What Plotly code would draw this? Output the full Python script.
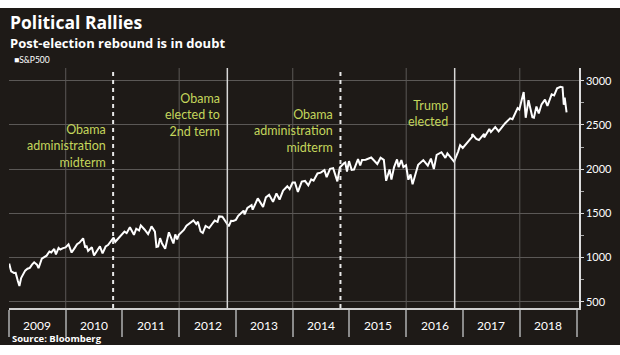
import plotly.graph_objects as go

# ---------------- data ----------------
dates = [
    "2009-01-02","2009-01-15","2009-02-02","2009-02-13","2009-02-27","2009-03-09","2009-03-20","2009-03-31",
    "2009-04-15","2009-04-30","2009-05-15","2009-05-29","2009-06-12","2009-06-30","2009-07-10","2009-07-31",
    "2009-08-14","2009-08-31","2009-09-18","2009-09-30","2009-10-19","2009-10-30","2009-11-16","2009-11-27",
    "2009-12-15","2009-12-31",
    "2010-01-19","2010-02-08","2010-02-26","2010-03-15","2010-03-31","2010-04-23","2010-05-07","2010-05-14",
    "2010-05-25","2010-06-18","2010-07-02","2010-07-16","2010-08-09","2010-08-26","2010-09-15","2010-09-30",
    "2010-10-15","2010-11-05","2010-11-16","2010-12-15","2010-12-31",
    "2011-01-14","2011-01-28","2011-02-18","2011-03-16","2011-03-31","2011-04-18","2011-04-29","2011-05-23",
    "2011-06-15","2011-06-30","2011-07-07","2011-07-29","2011-08-08","2011-08-19","2011-08-31","2011-09-12",
    "2011-09-22","2011-10-03","2011-10-27","2011-11-25","2011-12-07","2011-12-19","2011-12-30",
    "2012-01-17","2012-01-31","2012-02-17","2012-03-16","2012-04-02","2012-04-20","2012-05-01","2012-05-18",
    "2012-06-01","2012-06-19","2012-07-12","2012-07-31","2012-08-17","2012-09-04","2012-09-14","2012-10-05",
    "2012-10-23","2012-11-15","2012-11-30","2012-12-14","2012-12-31",
    "2013-01-15","2013-01-31","2013-02-19","2013-02-25","2013-03-15","2013-04-11","2013-04-18","2013-05-21",
    "2013-06-06","2013-06-24","2013-07-12","2013-08-02","2013-08-27","2013-09-18","2013-10-08","2013-10-31",
    "2013-11-27","2013-12-12","2013-12-31",
    "2014-01-15","2014-02-03","2014-02-28","2014-03-21","2014-04-11","2014-04-30","2014-05-15","2014-06-09",
    "2014-06-30","2014-07-24","2014-08-07","2014-08-29","2014-09-18","2014-10-15","2014-10-31","2014-11-28",
    "2014-12-05","2014-12-16","2014-12-29",
    "2015-01-15","2015-01-30","2015-02-25","2015-03-11","2015-03-23","2015-04-15","2015-05-21","2015-06-15",
    "2015-06-29","2015-07-20","2015-08-10","2015-08-25","2015-09-16","2015-09-28","2015-10-15","2015-11-03",
    "2015-11-13","2015-12-01","2015-12-14","2015-12-31",
    "2016-01-15","2016-01-29","2016-02-11","2016-03-18","2016-04-20","2016-05-19","2016-06-08","2016-06-27",
    "2016-07-15","2016-08-15","2016-09-09","2016-09-22","2016-10-14","2016-11-04","2016-11-30","2016-12-13",
    "2016-12-30",
    "2017-01-26","2017-02-28","2017-03-01","2017-03-27","2017-04-13","2017-05-16","2017-05-17","2017-06-19",
    "2017-06-29","2017-07-27","2017-08-18","2017-09-29","2017-10-31","2017-11-15","2017-12-18","2017-12-29",
    "2018-01-26","2018-02-08","2018-02-26","2018-03-23","2018-04-02","2018-04-18","2018-05-03","2018-05-21",
    "2018-06-12","2018-06-28","2018-07-25","2018-08-10","2018-08-29","2018-09-20","2018-10-03","2018-10-11",
    "2018-10-17","2018-10-24","2018-10-26","2018-10-29",
]
sp500 = [
    931, 843, 825, 826, 735, 677, 768, 798,
    852, 873, 883, 919, 946, 919, 879, 987,
    1005, 1021, 1068, 1057, 1097, 1036, 1109, 1091,
    1107, 1115,
    1150, 1056, 1104, 1150, 1169, 1217, 1111, 1136,
    1074, 1117, 1022, 1065, 1127, 1047, 1125, 1141,
    1176, 1225, 1178, 1236, 1258,
    1293, 1276, 1343, 1257, 1326, 1305, 1364, 1317,
    1265, 1321, 1353, 1292, 1119, 1124, 1219, 1162,
    1130, 1099, 1285, 1159, 1261, 1205, 1258,
    1293, 1312, 1361, 1404, 1419, 1379, 1406, 1295,
    1278, 1357, 1334, 1379, 1418, 1404, 1465, 1461,
    1413, 1353, 1416, 1413, 1426,
    1472, 1498, 1531, 1488, 1561, 1593, 1541, 1669,
    1622, 1573, 1680, 1710, 1630, 1725, 1656, 1757,
    1807, 1775, 1848,
    1848, 1742, 1859, 1866, 1816, 1884, 1870, 1951,
    1960, 1988, 1910, 2003, 2011, 1862, 2018, 2068,
    2075, 1973, 2091,
    1992, 1995, 2114, 2041, 2104, 2106, 2131, 2079,
    2058, 2129, 2104, 1868, 1996, 1881, 2023, 2110,
    2023, 2103, 2022, 2044,
    1880, 1940, 1829, 2050, 2102, 2040, 2119, 2001,
    2162, 2191, 2128, 2177, 2133, 2085, 2199, 2271,
    2239,
    2297, 2364, 2396, 2342, 2329, 2400, 2357, 2453,
    2419, 2475, 2426, 2519, 2575, 2565, 2690, 2674,
    2873, 2581, 2780, 2588, 2582, 2708, 2630, 2733,
    2786, 2716, 2846, 2833, 2914, 2931, 2926, 2728,
    2810, 2656, 2700, 2641,
]

title_text = "Political Rallies"
subtitle_text = "Post-election rebound is in doubt"
source_text = "Source: Bloomberg"
series_name = "S&P500"

year_labels = ["2009","2010","2011","2012","2013","2014","2015","2016","2017","2018"]
year_mids = [y + "-07-02" for y in year_labels]
grid_years = ["2010-01-01","2012-01-01","2014-01-01","2016-01-01","2018-01-01"]

midterm_dates = ["2010-11-02", "2014-11-04"]
election_dates = ["2012-11-06", "2016-11-08"]
event_dates = ["2010-11-02", "2012-11-06", "2014-11-04", "2016-11-08"]
event_texts = ["Obama<br>administration<br>midterm", "Obama<br>elected to<br>2nd term",
               "Obama<br>administration<br>midterm", "Trump<br>elected"]
event_ypos = [0.675, 0.804, 0.7375, 0.81]

y_ticks = [500, 1000, 1500, 2000, 2500, 3000]

# ---------------- style ----------------
BG = "#1e1a17"
GRID = "#5b5856"
GREEN = "#c4d65c"
FONT = "Lato, 'Open Sans', sans-serif"
HEAD = "'Open Sans', Lato, sans-serif"

fig = go.Figure()
fig.add_trace(go.Scatter(x=dates, y=sp500, mode="lines", name=series_name,
                         line=dict(color="white", width=2), showlegend=False,
                         hoverinfo="skip"))

shapes = []
for g in grid_years:
    shapes.append(dict(type="line", xref="x", yref="paper", x0=g, x1=g, y0=0, y1=1,
                       line=dict(color=GRID, width=1), layer="below"))
for d in midterm_dates:
    shapes.append(dict(type="line", xref="x", yref="paper", x0=d, x1=d, y0=0, y1=1,
                       line=dict(color="#e8e8e8", width=2, dash="4px,4px")))
for d in election_dates:
    shapes.append(dict(type="line", xref="x", yref="paper", x0=d, x1=d, y0=0, y1=1,
                       line=dict(color="#d8d8d8", width=1.5)))

annotations = []
for d, t, yp in zip(event_dates, event_texts, event_ypos):
    annotations.append(dict(x=d, y=yp, xref="x", yref="paper", text=t, showarrow=False,
                            xanchor="right", yanchor="middle", align="right", xshift=-5,
                            font=dict(family=FONT, size=12.5, color=GREEN)))
for m, lab in zip(year_mids, year_labels):
    annotations.append(dict(x=m, y=-0.071, xref="x", yref="paper", text=lab, showarrow=False,
                            xanchor="center", yanchor="middle", borderpad=0,
                            font=dict(family=FONT, size=12, color="white")))
annotations += [
    dict(x=0.0, y=1.245, xref="paper", yref="paper",
         text=("<b><span style='font-size:17.5px'>" + title_text + "</span><br>"
               "<span style='font-size:13px'>" + subtitle_text + "</span></b>"),
         showarrow=False, xanchor="left", yanchor="top", align="left", borderpad=0,
         font=dict(family=HEAD, size=14.7, color="white")),
    dict(x=0.006, y=1.035, xref="paper", yref="paper", text="■" + series_name,
         showarrow=False, xanchor="left", yanchor="middle",
         font=dict(family=FONT, size=8.5, color="white")),
    dict(x=0.004, y=-0.127, xref="paper", yref="paper",
         text="<b>" + source_text + "</b>",
         showarrow=False, xanchor="left", yanchor="middle", borderpad=0,
         font=dict(family=HEAD, size=9.5, color="white")),
]

# figure occupies page rows 8..345; page (white) shows above and below
fig.update_layout(
    width=620, height=337,
    margin=dict(l=9, r=41, t=60, b=37),
    paper_bgcolor=BG, plot_bgcolor=BG,
    shapes=shapes, annotations=annotations,
    xaxis=dict(type="date", range=["2009-01-01", "2019-01-17"], showgrid=False,
               showline=True, linecolor="#cfcfcf", linewidth=2,
               ticks="outside", ticklen=27, tickwidth=1.5, tickcolor="#8a8a8a",
               dtick="M12", tick0="2009-01-01", showticklabels=False, zeroline=False),
    yaxis=dict(side="right", range=[429, 3144], tickvals=y_ticks,
               showgrid=True, gridcolor=GRID, gridwidth=1,
               showline=True, linecolor="#dcdcdc", linewidth=1.5,
               ticks="outside", ticklen=3, tickcolor="#dcdcdc",
               minor=dict(ticks="outside", ticklen=3, dtick=250, tick0=250, tickcolor="#aaaaaa", showgrid=False),
               tickfont=dict(family=FONT, size=11, color="white"), zeroline=False),
    showlegend=False,
)

fig.write_html("out.html", config={"displayModeBar": False},
               post_script="document.body.style.margin='8px 0 0 0';"
                           "document.body.style.background='white';"
                           "document.body.style.overflow='hidden';")
